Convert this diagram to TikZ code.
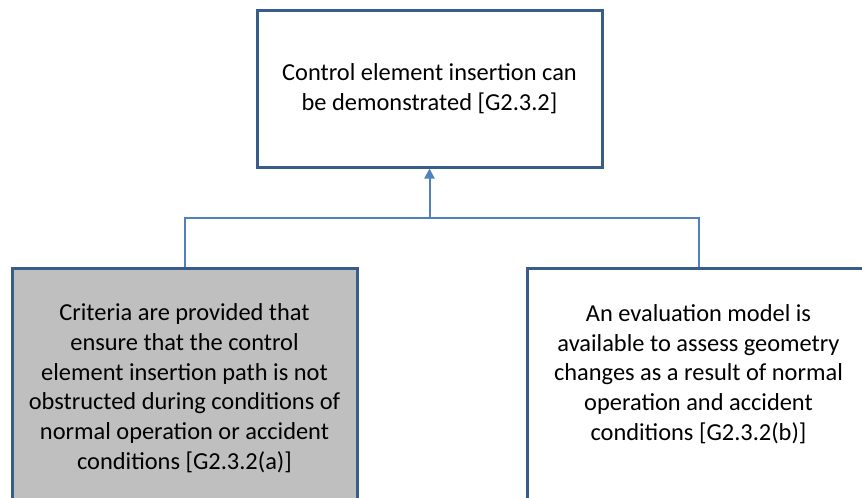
\documentclass[tikz,border=0pt]{standalone}
\usepackage{fontspec}
\setmainfont{Carlito}
\usetikzlibrary{arrows.meta}

\definecolor{boxline}{RGB}{56,93,138}
\definecolor{linkblue}{RGB}{79,129,189}
\definecolor{critfill}{RGB}{191,191,191}

\tikzset{
	goalbox/.style={draw=boxline, line width=2.25pt, rectangle, inner sep=0pt, font=\fontsize{18.3}{22.3}\selectfont},
	link/.style={draw=linkblue, line width=1.5pt},
}

\begin{document}
\begin{tikzpicture}[x=0.75pt,y=0.75pt,yscale=-1,xscale=1]
	\useasboundingbox (0,0) rectangle (862,497);
	\clip (0,0) rectangle (862,497);

	%Shape: top goal
	\node [goalbox, minimum width=258.75pt, minimum height=117.75pt, align=center] (goal) at (429.5,88.5) {Control element insertion can\\be demonstrated [G2.3.2]};
	%Shape: left subgoal
	\node [goalbox, fill=critfill, anchor=north] (crit) at (184.5,267) {\parbox[t][195pt][t]{258.75pt}{\centering\vspace*{23.5pt}\strut Criteria are provided that\\ensure that the control\\element insertion path is not\\obstructed during conditions of\\normal operation or accident\\conditions [G2.3.2(a)]}};
	%Shape: right subgoal
	\node [goalbox, fill=white, anchor=north] (model) at (698.5,267) {\parbox[t][195pt][t]{257.25pt}{\centering\vspace*{24pt}\strut An evaluation model  is\\available to assess geometry\\changes as a result of normal\\operation  and accident\\conditions [G2.3.2(b)]}};

	%Straight Lines: fork
	\coordinate (fork) at (429.5,218);
	\draw [link] (crit.north) |- (fork) -| (model.north);
	\draw [link, -{Triangle[width=7.5pt,length=7.5pt]}] (fork) -- (goal.south);
\end{tikzpicture}
\end{document}
